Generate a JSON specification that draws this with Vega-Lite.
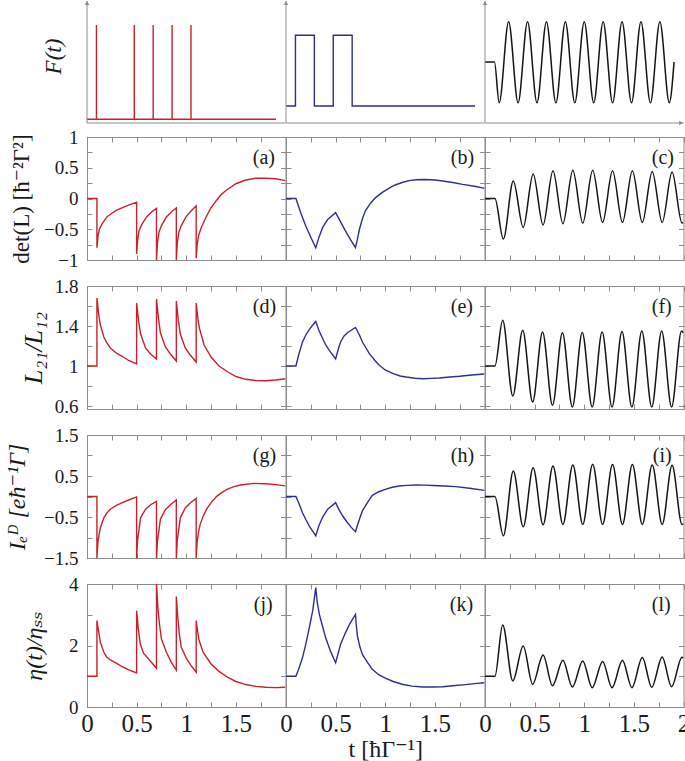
{
  "$schema": "https://vega.github.io/schema/vega-lite/v6.json",
  "background": "white",
  "padding": {"left": 5, "top": 0, "right": 0, "bottom": 0},
  "columns": 3,
  "spacing": {"row": 26, "column": 0},
  "bounds": "flush",
  "align": "each",
  "config": {
    "font": "Liberation Serif, DejaVu Serif, serif",
    "view": {"stroke": "#8c8c8c", "strokeWidth": 1},
    "axis": {"domain": false, "grid": false, "tickSize": -5, "tickColor": "#8c8c8c", "tickWidth": 1, "labelFont": "Liberation Serif, DejaVu Serif, serif", "titleFont": "Liberation Serif, DejaVu Serif, serif", "labelFontSize": 19, "labelColor": "#1a1a1a", "titleFontSize": 23, "titleFontWeight": "normal", "titleColor": "#1a1a1a", "labelFlush": false, "labelOverlap": false, "minExtent": 0},
    "text": {"font": "Liberation Serif, DejaVu Serif, serif"}
  },
  "datasets": {
    "Fa": [{"t":0,"v":-0.075},{"t":0.1,"v":-0.075},{"t":0.1,"v":0.782},{"t":0.1,"v":-0.075},{"t":0.5,"v":-0.075},{"t":0.5,"v":0.782},{"t":0.5,"v":-0.075},{"t":0.7,"v":-0.075},{"t":0.7,"v":0.782},{"t":0.7,"v":-0.075},{"t":0.9,"v":-0.075},{"t":0.9,"v":0.782},{"t":0.9,"v":-0.075},{"t":1.1,"v":-0.075},{"t":1.1,"v":0.782},{"t":1.1,"v":-0.075},{"t":2,"v":-0.075}],
    "Fb": [{"t":0,"v":0.045},{"t":0.1,"v":0.045},{"t":0.1,"v":0.688},{"t":0.3,"v":0.688},{"t":0.3,"v":0.045},{"t":0.5,"v":0.045},{"t":0.5,"v":0.688},{"t":0.7,"v":0.688},{"t":0.7,"v":0.045},{"t":2,"v":0.045}],
    "Fc": [{"t":0,"v":0.445},{"t":0.1,"v":0.445},{"t":0.15,"v":0.075},{"t":0.25,"v":0.812},{"t":0.35,"v":0.075},{"t":0.45,"v":0.812},{"t":0.55,"v":0.075},{"t":0.65,"v":0.812},{"t":0.75,"v":0.075},{"t":0.85,"v":0.812},{"t":0.95,"v":0.075},{"t":1.05,"v":0.812},{"t":1.15,"v":0.075},{"t":1.25,"v":0.812},{"t":1.35,"v":0.075},{"t":1.45,"v":0.812},{"t":1.55,"v":0.075},{"t":1.65,"v":0.812},{"t":1.75,"v":0.075},{"t":1.85,"v":0.812},{"t":1.95,"v":0.075},{"t":2.0,"v":0.445}],
    "a": [{"t":0,"v":0},{"t":0.1,"v":0},{"t":0.1,"v":-0.8},{"t":0.11,"v":-0.62},{"t":0.125,"v":-0.5},{"t":0.15,"v":-0.42},{"t":0.2,"v":-0.3},{"t":0.25,"v":-0.24},{"t":0.3,"v":-0.19},{"t":0.4,"v":-0.12},{"t":0.5,"v":-0.06},{"t":0.5,"v":-0.9},{"t":0.51,"v":-0.68},{"t":0.525,"v":-0.52},{"t":0.55,"v":-0.43},{"t":0.6,"v":-0.3},{"t":0.65,"v":-0.22},{"t":0.7,"v":-0.16},{"t":0.7,"v":-1.0},{"t":0.71,"v":-0.72},{"t":0.725,"v":-0.55},{"t":0.75,"v":-0.44},{"t":0.8,"v":-0.3},{"t":0.85,"v":-0.22},{"t":0.9,"v":-0.155},{"t":0.9,"v":-1.0},{"t":0.91,"v":-0.72},{"t":0.925,"v":-0.55},{"t":0.95,"v":-0.44},{"t":1.0,"v":-0.29},{"t":1.05,"v":-0.2},{"t":1.1,"v":-0.12},{"t":1.1,"v":-0.97},{"t":1.11,"v":-0.75},{"t":1.125,"v":-0.6},{"t":1.15,"v":-0.48},{"t":1.2,"v":-0.3},{"t":1.25,"v":-0.15},{"t":1.3,"v":-0.04},{"t":1.35,"v":0.06},{"t":1.4,"v":0.13},{"t":1.5,"v":0.24},{"t":1.6,"v":0.3},{"t":1.7,"v":0.33},{"t":1.8,"v":0.33},{"t":1.9,"v":0.32},{"t":2.0,"v":0.29}],
    "b": [{"t":0,"v":0},{"t":0.1,"v":0},{"t":0.15,"v":-0.24},{"t":0.2,"v":-0.45},{"t":0.25,"v":-0.63},{"t":0.3,"v":-0.8},{"t":0.33,"v":-0.64},{"t":0.37,"v":-0.47},{"t":0.42,"v":-0.34},{"t":0.5,"v":-0.23},{"t":0.55,"v":-0.38},{"t":0.6,"v":-0.53},{"t":0.65,"v":-0.67},{"t":0.7,"v":-0.8},{"t":0.72,"v":-0.66},{"t":0.74,"v":-0.5},{"t":0.77,"v":-0.33},{"t":0.8,"v":-0.2},{"t":0.85,"v":-0.08},{"t":0.9,"v":0.01},{"t":0.97,"v":0.1},{"t":1.04,"v":0.17},{"t":1.1,"v":0.22},{"t":1.17,"v":0.26},{"t":1.24,"v":0.29},{"t":1.31,"v":0.305},{"t":1.41,"v":0.31},{"t":1.5,"v":0.3},{"t":1.58,"v":0.285},{"t":1.68,"v":0.26},{"t":1.78,"v":0.23},{"t":1.9,"v":0.2},{"t":2.0,"v":0.165}],
    "c": [{"t":0,"v":0},{"t":0.1,"v":0},{"t":0.185,"v":-0.66},{"t":0.285,"v":0.285},{"t":0.385,"v":-0.47},{"t":0.485,"v":0.4},{"t":0.585,"v":-0.43},{"t":0.685,"v":0.45},{"t":0.785,"v":-0.41},{"t":0.885,"v":0.46},{"t":0.985,"v":-0.4},{"t":1.085,"v":0.46},{"t":1.185,"v":-0.39},{"t":1.285,"v":0.45},{"t":1.385,"v":-0.39},{"t":1.485,"v":0.45},{"t":1.585,"v":-0.39},{"t":1.685,"v":0.44},{"t":1.785,"v":-0.39},{"t":1.885,"v":0.43},{"t":1.985,"v":-0.4},{"t":2.0,"v":-0.39}],
    "d": [{"t":0,"v":1},{"t":0.1,"v":1},{"t":0.1,"v":1.68},{"t":0.12,"v":1.5},{"t":0.135,"v":1.41},{"t":0.17,"v":1.29},{"t":0.2,"v":1.23},{"t":0.235,"v":1.18},{"t":0.3,"v":1.125},{"t":0.35,"v":1.1},{"t":0.42,"v":1.055},{"t":0.5,"v":1.02},{"t":0.5,"v":1.63},{"t":0.52,"v":1.45},{"t":0.54,"v":1.32},{"t":0.59,"v":1.18},{"t":0.64,"v":1.12},{"t":0.7,"v":1.07},{"t":0.7,"v":1.67},{"t":0.72,"v":1.48},{"t":0.74,"v":1.33},{"t":0.79,"v":1.19},{"t":0.84,"v":1.12},{"t":0.9,"v":1.05},{"t":0.9,"v":1.65},{"t":0.92,"v":1.46},{"t":0.94,"v":1.32},{"t":0.99,"v":1.18},{"t":1.04,"v":1.11},{"t":1.1,"v":1.04},{"t":1.1,"v":1.63},{"t":1.12,"v":1.45},{"t":1.135,"v":1.37},{"t":1.18,"v":1.21},{"t":1.25,"v":1.09},{"t":1.33,"v":1.0},{"t":1.42,"v":0.94},{"t":1.5,"v":0.895},{"t":1.6,"v":0.867},{"t":1.7,"v":0.855},{"t":1.8,"v":0.853},{"t":1.9,"v":0.86},{"t":2.0,"v":0.873}],
    "e": [{"t":0,"v":1},{"t":0.1,"v":1},{"t":0.13,"v":1.12},{"t":0.166,"v":1.24},{"t":0.2,"v":1.31},{"t":0.235,"v":1.367},{"t":0.27,"v":1.41},{"t":0.3,"v":1.445},{"t":0.33,"v":1.36},{"t":0.37,"v":1.273},{"t":0.4,"v":1.21},{"t":0.436,"v":1.157},{"t":0.5,"v":1.07},{"t":0.53,"v":1.18},{"t":0.55,"v":1.24},{"t":0.585,"v":1.3},{"t":0.62,"v":1.333},{"t":0.66,"v":1.36},{"t":0.7,"v":1.385},{"t":0.74,"v":1.31},{"t":0.77,"v":1.24},{"t":0.8,"v":1.19},{"t":0.84,"v":1.123},{"t":0.9,"v":1.05},{"t":0.94,"v":1.007},{"t":1.0,"v":0.96},{"t":1.08,"v":0.923},{"t":1.15,"v":0.9},{"t":1.21,"v":0.89},{"t":1.3,"v":0.878},{"t":1.38,"v":0.873},{"t":1.46,"v":0.876},{"t":1.545,"v":0.88},{"t":1.65,"v":0.89},{"t":1.75,"v":0.897},{"t":1.87,"v":0.91},{"t":2.0,"v":0.92}],
    "f": [{"t":0,"v":1},{"t":0.1,"v":1},{"t":0.178,"v":1.457},{"t":0.28,"v":0.7},{"t":0.38,"v":1.357},{"t":0.48,"v":0.64},{"t":0.58,"v":1.34},{"t":0.68,"v":0.607},{"t":0.78,"v":1.333},{"t":0.88,"v":0.59},{"t":0.98,"v":1.335},{"t":1.08,"v":0.59},{"t":1.18,"v":1.34},{"t":1.28,"v":0.59},{"t":1.38,"v":1.345},{"t":1.48,"v":0.59},{"t":1.58,"v":1.35},{"t":1.68,"v":0.59},{"t":1.78,"v":1.35},{"t":1.88,"v":0.59},{"t":1.98,"v":1.35},{"t":2.0,"v":1.33}],
    "g": [{"t":0,"v":0},{"t":0.1,"v":0},{"t":0.1,"v":-1.5},{"t":0.11,"v":-1.1},{"t":0.125,"v":-0.88},{"t":0.135,"v":-0.76},{"t":0.17,"v":-0.52},{"t":0.2,"v":-0.4},{"t":0.235,"v":-0.31},{"t":0.3,"v":-0.21},{"t":0.34,"v":-0.17},{"t":0.42,"v":-0.085},{"t":0.5,"v":-0.01},{"t":0.5,"v":-1.5},{"t":0.51,"v":-1.05},{"t":0.525,"v":-0.8},{"t":0.54,"v":-0.52},{"t":0.59,"v":-0.31},{"t":0.64,"v":-0.2},{"t":0.7,"v":-0.12},{"t":0.7,"v":-1.55},{"t":0.71,"v":-1.08},{"t":0.725,"v":-0.82},{"t":0.74,"v":-0.55},{"t":0.79,"v":-0.32},{"t":0.84,"v":-0.2},{"t":0.9,"v":-0.085},{"t":0.9,"v":-1.5},{"t":0.91,"v":-1.05},{"t":0.925,"v":-0.8},{"t":0.94,"v":-0.52},{"t":0.99,"v":-0.28},{"t":1.04,"v":-0.16},{"t":1.1,"v":-0.045},{"t":1.1,"v":-1.5},{"t":1.11,"v":-1.1},{"t":1.125,"v":-0.85},{"t":1.14,"v":-0.68},{"t":1.17,"v":-0.48},{"t":1.21,"v":-0.29},{"t":1.26,"v":-0.12},{"t":1.31,"v":0.01},{"t":1.36,"v":0.1},{"t":1.41,"v":0.175},{"t":1.48,"v":0.24},{"t":1.55,"v":0.28},{"t":1.68,"v":0.32},{"t":1.8,"v":0.31},{"t":1.9,"v":0.29},{"t":2.0,"v":0.26}],
    "h": [{"t":0,"v":0},{"t":0.1,"v":0},{"t":0.13,"v":-0.17},{"t":0.166,"v":-0.395},{"t":0.2,"v":-0.56},{"t":0.235,"v":-0.72},{"t":0.27,"v":-0.85},{"t":0.3,"v":-0.96},{"t":0.33,"v":-0.72},{"t":0.37,"v":-0.5},{"t":0.42,"v":-0.31},{"t":0.5,"v":-0.15},{"t":0.53,"v":-0.3},{"t":0.57,"v":-0.47},{"t":0.62,"v":-0.64},{"t":0.66,"v":-0.76},{"t":0.7,"v":-0.86},{"t":0.72,"v":-0.7},{"t":0.745,"v":-0.52},{"t":0.77,"v":-0.35},{"t":0.82,"v":-0.15},{"t":0.87,"v":0.03},{"t":0.93,"v":0.11},{"t":1.0,"v":0.175},{"t":1.07,"v":0.225},{"t":1.14,"v":0.256},{"t":1.22,"v":0.272},{"t":1.31,"v":0.28},{"t":1.4,"v":0.278},{"t":1.48,"v":0.27},{"t":1.6,"v":0.255},{"t":1.71,"v":0.24},{"t":1.85,"v":0.2},{"t":2.0,"v":0.15}],
    "i": [{"t":0,"v":0},{"t":0.1,"v":0},{"t":0.185,"v":-0.96},{"t":0.285,"v":0.62},{"t":0.385,"v":-0.74},{"t":0.485,"v":0.7},{"t":0.585,"v":-0.69},{"t":0.685,"v":0.745},{"t":0.785,"v":-0.68},{"t":0.885,"v":0.77},{"t":0.985,"v":-0.68},{"t":1.085,"v":0.785},{"t":1.185,"v":-0.68},{"t":1.285,"v":0.78},{"t":1.385,"v":-0.68},{"t":1.485,"v":0.78},{"t":1.585,"v":-0.68},{"t":1.685,"v":0.77},{"t":1.785,"v":-0.68},{"t":1.885,"v":0.76},{"t":1.985,"v":-0.68},{"t":2.0,"v":-0.67}],
    "j": [{"t":0,"v":1},{"t":0.1,"v":1},{"t":0.1,"v":2.81},{"t":0.12,"v":2.4},{"t":0.135,"v":2.1},{"t":0.17,"v":1.78},{"t":0.2,"v":1.62},{"t":0.235,"v":1.53},{"t":0.3,"v":1.42},{"t":0.34,"v":1.34},{"t":0.42,"v":1.21},{"t":0.5,"v":1.11},{"t":0.5,"v":3.13},{"t":0.515,"v":2.6},{"t":0.537,"v":2.05},{"t":0.57,"v":1.75},{"t":0.64,"v":1.49},{"t":0.7,"v":1.26},{"t":0.7,"v":4.02},{"t":0.715,"v":3.2},{"t":0.73,"v":2.7},{"t":0.75,"v":2.21},{"t":0.8,"v":1.78},{"t":0.85,"v":1.45},{"t":0.9,"v":1.2},{"t":0.9,"v":3.59},{"t":0.915,"v":2.9},{"t":0.93,"v":2.37},{"t":0.95,"v":1.94},{"t":1.0,"v":1.59},{"t":1.05,"v":1.34},{"t":1.1,"v":1.13},{"t":1.1,"v":2.81},{"t":1.115,"v":2.45},{"t":1.13,"v":2.16},{"t":1.17,"v":1.78},{"t":1.25,"v":1.4},{"t":1.33,"v":1.16},{"t":1.42,"v":0.96},{"t":1.5,"v":0.83},{"t":1.6,"v":0.73},{"t":1.7,"v":0.67},{"t":1.8,"v":0.64},{"t":1.9,"v":0.63},{"t":2.0,"v":0.64}],
    "k": [{"t":0,"v":1},{"t":0.1,"v":1},{"t":0.13,"v":1.25},{"t":0.166,"v":1.6},{"t":0.2,"v":2.05},{"t":0.235,"v":2.58},{"t":0.27,"v":3.15},{"t":0.3,"v":3.88},{"t":0.315,"v":3.4},{"t":0.336,"v":3.01},{"t":0.37,"v":2.6},{"t":0.4,"v":2.25},{"t":0.45,"v":1.8},{"t":0.5,"v":1.44},{"t":0.55,"v":2.04},{"t":0.6,"v":2.42},{"t":0.64,"v":2.69},{"t":0.67,"v":2.85},{"t":0.7,"v":3.01},{"t":0.71,"v":2.6},{"t":0.72,"v":2.3},{"t":0.745,"v":1.95},{"t":0.77,"v":1.71},{"t":0.82,"v":1.45},{"t":0.87,"v":1.23},{"t":0.93,"v":1.06},{"t":1.0,"v":0.94},{"t":1.08,"v":0.83},{"t":1.17,"v":0.74},{"t":1.27,"v":0.68},{"t":1.38,"v":0.65},{"t":1.48,"v":0.65},{"t":1.58,"v":0.66},{"t":1.68,"v":0.69},{"t":1.78,"v":0.72},{"t":1.9,"v":0.76},{"t":2.0,"v":0.79}],
    "l": [{"t":0,"v":1},{"t":0.1,"v":1},{"t":0.178,"v":2.67},{"t":0.28,"v":0.85},{"t":0.385,"v":1.98},{"t":0.48,"v":0.74},{"t":0.585,"v":1.69},{"t":0.68,"v":0.69},{"t":0.785,"v":1.52},{"t":0.88,"v":0.65},{"t":0.985,"v":1.5},{"t":1.08,"v":0.63},{"t":1.185,"v":1.48},{"t":1.28,"v":0.63},{"t":1.385,"v":1.52},{"t":1.48,"v":0.63},{"t":1.585,"v":1.61},{"t":1.68,"v":0.64},{"t":1.785,"v":1.63},{"t":1.88,"v":0.66},{"t":1.985,"v":1.62},{"t":2.0,"v":1.6}]
  },
  "concat": [
    {"width": 198.5, "height": 110, "view": {"stroke": null}, "resolve": {"axis": {"x": "independent", "y": "independent"}}, "layer": [
      {"data": {"name": "Fa"}, "mark": {"type": "line", "color": "#c9212c", "strokeWidth": 1.4}, "encoding": {
        "x": {"field": "t", "type": "quantitative", "scale": {"domain": [0, 2.1], "nice": false, "zero": false}, "axis": null},
        "y": {"field": "v", "type": "quantitative", "scale": {"domain": [0, 1], "nice": false, "zero": false}, "axis": {"title": "F(t)", "titleFontStyle": "italic", "labels": false, "ticks": false, "domain": false, "titlePadding": 22}},
        "order": {"value": null}}},
      {"data": {"values": [{}]}, "mark": {"type": "rule", "color": "#8c8c8c", "strokeWidth": 1}, "encoding": {
        "x": {"datum": 0, "type": "quantitative", "scale": {"domain": [0, 2.1], "nice": false, "zero": false}, "axis": null},
        "y": {"datum": 1, "type": "quantitative", "scale": {"domain": [0, 1], "nice": false, "zero": false}, "axis": null},
        "y2": {"datum": -0.109}}},
      {"data": {"values": [{}]}, "mark": {"type": "rule", "color": "#8c8c8c", "strokeWidth": 1}, "encoding": {
        "x": {"datum": 0, "type": "quantitative", "scale": {"domain": [0, 2.1], "nice": false, "zero": false}, "axis": null},
        "x2": {"datum": 2.1},
        "y": {"datum": -0.109, "type": "quantitative", "scale": {"domain": [0, 1], "nice": false, "zero": false}, "axis": null}}},
      {"data": {"values": [{}]}, "mark": {"type": "point", "shape": "triangle-up", "filled": true, "size": 20, "color": "#8c8c8c", "opacity": 1}, "encoding": {
        "x": {"datum": 0, "type": "quantitative", "scale": {"domain": [0, 2.1], "nice": false, "zero": false}, "axis": null},
        "y": {"datum": 0.982, "type": "quantitative", "scale": {"domain": [0, 1], "nice": false, "zero": false}, "axis": null}}}
    ]},
    {"width": 198.5, "height": 110, "view": {"stroke": null}, "layer": [
      {"data": {"name": "Fb"}, "mark": {"type": "line", "color": "#2d2f8e", "strokeWidth": 1.4}, "encoding": {
        "x": {"field": "t", "type": "quantitative", "scale": {"domain": [0, 2.1], "nice": false, "zero": false}, "axis": null},
        "y": {"field": "v", "type": "quantitative", "scale": {"domain": [0, 1], "nice": false, "zero": false}, "axis": null},
        "order": {"value": null}}},
      {"data": {"values": [{}]}, "mark": {"type": "rule", "color": "#8c8c8c", "strokeWidth": 1}, "encoding": {
        "x": {"datum": 0, "type": "quantitative", "scale": {"domain": [0, 2.1], "nice": false, "zero": false}, "axis": null},
        "y": {"datum": 1, "type": "quantitative", "scale": {"domain": [0, 1], "nice": false, "zero": false}, "axis": null},
        "y2": {"datum": -0.109}}},
      {"data": {"values": [{}]}, "mark": {"type": "rule", "color": "#8c8c8c", "strokeWidth": 1}, "encoding": {
        "x": {"datum": 0, "type": "quantitative", "scale": {"domain": [0, 2.1], "nice": false, "zero": false}, "axis": null},
        "x2": {"datum": 2.1},
        "y": {"datum": -0.109, "type": "quantitative", "scale": {"domain": [0, 1], "nice": false, "zero": false}, "axis": null}}},
      {"data": {"values": [{}]}, "mark": {"type": "point", "shape": "triangle-up", "filled": true, "size": 20, "color": "#8c8c8c", "opacity": 1}, "encoding": {
        "x": {"datum": 0, "type": "quantitative", "scale": {"domain": [0, 2.1], "nice": false, "zero": false}, "axis": null},
        "y": {"datum": 0.982, "type": "quantitative", "scale": {"domain": [0, 1], "nice": false, "zero": false}, "axis": null}}}
    ]},
    {"width": 198.5, "height": 110, "view": {"stroke": null}, "layer": [
      {"data": {"name": "Fc"}, "mark": {"type": "line", "color": "#141414", "strokeWidth": 1.5, "interpolate": "monotone"}, "encoding": {
        "x": {"field": "t", "type": "quantitative", "scale": {"domain": [0, 2.1], "nice": false, "zero": false}, "axis": null},
        "y": {"field": "v", "type": "quantitative", "scale": {"domain": [0, 1], "nice": false, "zero": false}, "axis": null},
        "order": {"value": null}}},
      {"data": {"values": [{}]}, "mark": {"type": "rule", "color": "#8c8c8c", "strokeWidth": 1}, "encoding": {
        "x": {"datum": 0, "type": "quantitative", "scale": {"domain": [0, 2.1], "nice": false, "zero": false}, "axis": null},
        "y": {"datum": 1, "type": "quantitative", "scale": {"domain": [0, 1], "nice": false, "zero": false}, "axis": null},
        "y2": {"datum": -0.109}}},
      {"data": {"values": [{}]}, "mark": {"type": "rule", "color": "#8c8c8c", "strokeWidth": 1}, "encoding": {
        "x": {"datum": 0, "type": "quantitative", "scale": {"domain": [0, 2.1], "nice": false, "zero": false}, "axis": null},
        "x2": {"datum": 2.1},
        "y": {"datum": -0.109, "type": "quantitative", "scale": {"domain": [0, 1], "nice": false, "zero": false}, "axis": null}}},
      {"data": {"values": [{}]}, "mark": {"type": "point", "shape": "triangle-up", "filled": true, "size": 20, "color": "#8c8c8c", "opacity": 1}, "encoding": {
        "x": {"datum": 0, "type": "quantitative", "scale": {"domain": [0, 2.1], "nice": false, "zero": false}, "axis": null},
        "y": {"datum": 0.982, "type": "quantitative", "scale": {"domain": [0, 1], "nice": false, "zero": false}, "axis": null}}},
      {"data": {"values": [{}]}, "mark": {"type": "point", "shape": "triangle-right", "filled": true, "size": 20, "color": "#8c8c8c", "opacity": 1}, "encoding": {
        "x": {"datum": 2.075, "type": "quantitative", "scale": {"domain": [0, 2.1], "nice": false, "zero": false}, "axis": null},
        "y": {"datum": -0.109, "type": "quantitative", "scale": {"domain": [0, 1], "nice": false, "zero": false}, "axis": null}}}
    ]},

    {"width": 198.5, "height": 123, "resolve": {"axis": {"x": "independent", "y": "independent"}}, "layer": [
      {"data": {"name": "a"}, "mark": {"type": "line", "color": "#c9212c", "strokeWidth": 1.4, "clip": true}, "encoding": {
        "x": {"field": "t", "type": "quantitative", "scale": {"domain": [0, 2], "nice": false, "zero": false}, "axis": {"orient": "bottom", "values": [0,0.25,0.5,0.75,1,1.25,1.5,1.75,2], "labels": false, "title": null}},
        "y": {"field": "v", "type": "quantitative", "scale": {"domain": [-1, 1], "nice": false, "zero": false}, "axis": {"orient": "left", "values": [-1,-0.75,-0.5,-0.25,0,0.25,0.5,0.75,1], "format": "~g", "labelExpr": "indexof([1,0.5,0,-0.5,-1], datum.value) >= 0 ? datum.label : ''", "labelPadding": 14, "title": "det(L) [ħ⁻²Γ²]", "titlePadding": 10}},
        "order": {"value": null}}},
      {"data": {"values": [{}]}, "mark": {"type": "text", "align": "left", "baseline": "middle", "fontSize": 20, "color": "#1a1a1a"}, "encoding": {
        "x": {"datum": 1.67, "type": "quantitative", "scale": {"domain": [0, 2], "nice": false, "zero": false}, "axis": {"orient": "top", "values": [0,0.25,0.5,0.75,1,1.25,1.5,1.75,2], "labels": false, "title": null}},
        "y": {"datum": 0.66, "type": "quantitative", "scale": {"domain": [-1, 1], "nice": false, "zero": false}, "axis": {"orient": "right", "values": [-1,-0.75,-0.5,-0.25,0,0.25,0.5,0.75,1], "labels": false, "title": null}},
        "text": {"value": "(a)"}}}
    ]},
    {"width": 198.5, "height": 123, "resolve": {"axis": {"x": "independent", "y": "independent"}}, "layer": [
      {"data": {"name": "b"}, "mark": {"type": "line", "color": "#2d2f8e", "strokeWidth": 1.4, "clip": true}, "encoding": {
        "x": {"field": "t", "type": "quantitative", "scale": {"domain": [0, 2], "nice": false, "zero": false}, "axis": {"orient": "bottom", "values": [0,0.25,0.5,0.75,1,1.25,1.5,1.75,2], "labels": false, "title": null}},
        "y": {"field": "v", "type": "quantitative", "scale": {"domain": [-1, 1], "nice": false, "zero": false}, "axis": {"orient": "left", "values": [-1,-0.75,-0.5,-0.25,0,0.25,0.5,0.75,1], "labels": false, "title": null}},
        "order": {"value": null}}},
      {"data": {"values": [{}]}, "mark": {"type": "text", "align": "left", "baseline": "middle", "fontSize": 20, "color": "#1a1a1a"}, "encoding": {
        "x": {"datum": 1.66, "type": "quantitative", "scale": {"domain": [0, 2], "nice": false, "zero": false}, "axis": {"orient": "top", "values": [0,0.25,0.5,0.75,1,1.25,1.5,1.75,2], "labels": false, "title": null}},
        "y": {"datum": 0.66, "type": "quantitative", "scale": {"domain": [-1, 1], "nice": false, "zero": false}, "axis": {"orient": "right", "values": [-1,-0.75,-0.5,-0.25,0,0.25,0.5,0.75,1], "labels": false, "title": null}},
        "text": {"value": "(b)"}}}
    ]},
    {"width": 198.5, "height": 123, "resolve": {"axis": {"x": "independent", "y": "independent"}}, "layer": [
      {"data": {"name": "c"}, "mark": {"type": "line", "color": "#141414", "strokeWidth": 1.5, "clip": true, "interpolate": "monotone"}, "encoding": {
        "x": {"field": "t", "type": "quantitative", "scale": {"domain": [0, 2], "nice": false, "zero": false}, "axis": {"orient": "bottom", "values": [0,0.25,0.5,0.75,1,1.25,1.5,1.75,2], "labels": false, "title": null}},
        "y": {"field": "v", "type": "quantitative", "scale": {"domain": [-1, 1], "nice": false, "zero": false}, "axis": {"orient": "left", "values": [-1,-0.75,-0.5,-0.25,0,0.25,0.5,0.75,1], "labels": false, "title": null}},
        "order": {"value": null}}},
      {"data": {"values": [{}]}, "mark": {"type": "text", "align": "left", "baseline": "middle", "fontSize": 20, "color": "#1a1a1a"}, "encoding": {
        "x": {"datum": 1.68, "type": "quantitative", "scale": {"domain": [0, 2], "nice": false, "zero": false}, "axis": {"orient": "top", "values": [0,0.25,0.5,0.75,1,1.25,1.5,1.75,2], "labels": false, "title": null}},
        "y": {"datum": 0.66, "type": "quantitative", "scale": {"domain": [-1, 1], "nice": false, "zero": false}, "axis": {"orient": "right", "values": [-1,-0.75,-0.5,-0.25,0,0.25,0.5,0.75,1], "labels": false, "title": null}},
        "text": {"value": "(c)"}}}
    ]},

    {"width": 198.5, "height": 123, "resolve": {"axis": {"x": "independent", "y": "independent"}}, "layer": [
      {"data": {"name": "d"}, "mark": {"type": "line", "color": "#c9212c", "strokeWidth": 1.4, "clip": true}, "encoding": {
        "x": {"field": "t", "type": "quantitative", "scale": {"domain": [0, 2], "nice": false, "zero": false}, "axis": {"orient": "bottom", "values": [0,0.25,0.5,0.75,1,1.25,1.5,1.75,2], "labels": false, "title": null}},
        "y": {"field": "v", "type": "quantitative", "scale": {"domain": [0.57, 1.8], "nice": false, "zero": false}, "axis": {"orient": "left", "values": [0.6,0.8,1,1.2,1.4,1.6,1.8], "format": "~g", "labelExpr": "indexof([0.6,1,1.4,1.8], datum.value) >= 0 ? datum.label : ''", "labelPadding": 14, "title": "L₂₁/L₁₂", "titleFontStyle": "italic", "titleFontSize": 26, "titlePadding": 8}},
        "order": {"value": null}}},
      {"data": {"values": [{}]}, "mark": {"type": "text", "align": "left", "baseline": "middle", "fontSize": 20, "color": "#1a1a1a"}, "encoding": {
        "x": {"datum": 1.67, "type": "quantitative", "scale": {"domain": [0, 2], "nice": false, "zero": false}, "axis": {"orient": "top", "values": [0,0.25,0.5,0.75,1,1.25,1.5,1.75,2], "labels": false, "title": null}},
        "y": {"datum": 1.59, "type": "quantitative", "scale": {"domain": [0.57, 1.8], "nice": false, "zero": false}, "axis": {"orient": "right", "values": [0.6,0.8,1,1.2,1.4,1.6,1.8], "labels": false, "title": null}},
        "text": {"value": "(d)"}}}
    ]},
    {"width": 198.5, "height": 123, "resolve": {"axis": {"x": "independent", "y": "independent"}}, "layer": [
      {"data": {"name": "e"}, "mark": {"type": "line", "color": "#2d2f8e", "strokeWidth": 1.4, "clip": true}, "encoding": {
        "x": {"field": "t", "type": "quantitative", "scale": {"domain": [0, 2], "nice": false, "zero": false}, "axis": {"orient": "bottom", "values": [0,0.25,0.5,0.75,1,1.25,1.5,1.75,2], "labels": false, "title": null}},
        "y": {"field": "v", "type": "quantitative", "scale": {"domain": [0.57, 1.8], "nice": false, "zero": false}, "axis": {"orient": "left", "values": [0.6,0.8,1,1.2,1.4,1.6,1.8], "labels": false, "title": null}},
        "order": {"value": null}}},
      {"data": {"values": [{}]}, "mark": {"type": "text", "align": "left", "baseline": "middle", "fontSize": 20, "color": "#1a1a1a"}, "encoding": {
        "x": {"datum": 1.66, "type": "quantitative", "scale": {"domain": [0, 2], "nice": false, "zero": false}, "axis": {"orient": "top", "values": [0,0.25,0.5,0.75,1,1.25,1.5,1.75,2], "labels": false, "title": null}},
        "y": {"datum": 1.59, "type": "quantitative", "scale": {"domain": [0.57, 1.8], "nice": false, "zero": false}, "axis": {"orient": "right", "values": [0.6,0.8,1,1.2,1.4,1.6,1.8], "labels": false, "title": null}},
        "text": {"value": "(e)"}}}
    ]},
    {"width": 198.5, "height": 123, "resolve": {"axis": {"x": "independent", "y": "independent"}}, "layer": [
      {"data": {"name": "f"}, "mark": {"type": "line", "color": "#141414", "strokeWidth": 1.5, "clip": true, "interpolate": "monotone"}, "encoding": {
        "x": {"field": "t", "type": "quantitative", "scale": {"domain": [0, 2], "nice": false, "zero": false}, "axis": {"orient": "bottom", "values": [0,0.25,0.5,0.75,1,1.25,1.5,1.75,2], "labels": false, "title": null}},
        "y": {"field": "v", "type": "quantitative", "scale": {"domain": [0.57, 1.8], "nice": false, "zero": false}, "axis": {"orient": "left", "values": [0.6,0.8,1,1.2,1.4,1.6,1.8], "labels": false, "title": null}},
        "order": {"value": null}}},
      {"data": {"values": [{}]}, "mark": {"type": "text", "align": "left", "baseline": "middle", "fontSize": 20, "color": "#1a1a1a"}, "encoding": {
        "x": {"datum": 1.68, "type": "quantitative", "scale": {"domain": [0, 2], "nice": false, "zero": false}, "axis": {"orient": "top", "values": [0,0.25,0.5,0.75,1,1.25,1.5,1.75,2], "labels": false, "title": null}},
        "y": {"datum": 1.59, "type": "quantitative", "scale": {"domain": [0.57, 1.8], "nice": false, "zero": false}, "axis": {"orient": "right", "values": [0.6,0.8,1,1.2,1.4,1.6,1.8], "labels": false, "title": null}},
        "text": {"value": "(f)"}}}
    ]},

    {"width": 198.5, "height": 123, "resolve": {"axis": {"x": "independent", "y": "independent"}}, "layer": [
      {"data": {"name": "g"}, "mark": {"type": "line", "color": "#c9212c", "strokeWidth": 1.4, "clip": true}, "encoding": {
        "x": {"field": "t", "type": "quantitative", "scale": {"domain": [0, 2], "nice": false, "zero": false}, "axis": {"orient": "bottom", "values": [0,0.25,0.5,0.75,1,1.25,1.5,1.75,2], "labels": false, "title": null}},
        "y": {"field": "v", "type": "quantitative", "scale": {"domain": [-1.5, 1.5], "nice": false, "zero": false}, "axis": {"orient": "left", "values": [-1.5,-1,-0.5,0,0.5,1,1.5], "format": "~g", "labelExpr": "indexof([1.5,0.5,-0.5,-1.5], datum.value) >= 0 ? datum.label : ''", "labelPadding": 14, "title": "Iₑᴰ [eħ⁻¹Γ]", "titleFontStyle": "italic", "titleFontSize": 24, "titlePadding": 14}},
        "order": {"value": null}}},
      {"data": {"values": [{}]}, "mark": {"type": "text", "align": "left", "baseline": "middle", "fontSize": 20, "color": "#1a1a1a"}, "encoding": {
        "x": {"datum": 1.67, "type": "quantitative", "scale": {"domain": [0, 2], "nice": false, "zero": false}, "axis": {"orient": "top", "values": [0,0.25,0.5,0.75,1,1.25,1.5,1.75,2], "labels": false, "title": null}},
        "y": {"datum": 0.99, "type": "quantitative", "scale": {"domain": [-1.5, 1.5], "nice": false, "zero": false}, "axis": {"orient": "right", "values": [-1.5,-1,-0.5,0,0.5,1,1.5], "labels": false, "title": null}},
        "text": {"value": "(g)"}}}
    ]},
    {"width": 198.5, "height": 123, "resolve": {"axis": {"x": "independent", "y": "independent"}}, "layer": [
      {"data": {"name": "h"}, "mark": {"type": "line", "color": "#2d2f8e", "strokeWidth": 1.4, "clip": true}, "encoding": {
        "x": {"field": "t", "type": "quantitative", "scale": {"domain": [0, 2], "nice": false, "zero": false}, "axis": {"orient": "bottom", "values": [0,0.25,0.5,0.75,1,1.25,1.5,1.75,2], "labels": false, "title": null}},
        "y": {"field": "v", "type": "quantitative", "scale": {"domain": [-1.5, 1.5], "nice": false, "zero": false}, "axis": {"orient": "left", "values": [-1.5,-1,-0.5,0,0.5,1,1.5], "labels": false, "title": null}},
        "order": {"value": null}}},
      {"data": {"values": [{}]}, "mark": {"type": "text", "align": "left", "baseline": "middle", "fontSize": 20, "color": "#1a1a1a"}, "encoding": {
        "x": {"datum": 1.66, "type": "quantitative", "scale": {"domain": [0, 2], "nice": false, "zero": false}, "axis": {"orient": "top", "values": [0,0.25,0.5,0.75,1,1.25,1.5,1.75,2], "labels": false, "title": null}},
        "y": {"datum": 0.99, "type": "quantitative", "scale": {"domain": [-1.5, 1.5], "nice": false, "zero": false}, "axis": {"orient": "right", "values": [-1.5,-1,-0.5,0,0.5,1,1.5], "labels": false, "title": null}},
        "text": {"value": "(h)"}}}
    ]},
    {"width": 198.5, "height": 123, "resolve": {"axis": {"x": "independent", "y": "independent"}}, "layer": [
      {"data": {"name": "i"}, "mark": {"type": "line", "color": "#141414", "strokeWidth": 1.5, "clip": true, "interpolate": "monotone"}, "encoding": {
        "x": {"field": "t", "type": "quantitative", "scale": {"domain": [0, 2], "nice": false, "zero": false}, "axis": {"orient": "bottom", "values": [0,0.25,0.5,0.75,1,1.25,1.5,1.75,2], "labels": false, "title": null}},
        "y": {"field": "v", "type": "quantitative", "scale": {"domain": [-1.5, 1.5], "nice": false, "zero": false}, "axis": {"orient": "left", "values": [-1.5,-1,-0.5,0,0.5,1,1.5], "labels": false, "title": null}},
        "order": {"value": null}}},
      {"data": {"values": [{}]}, "mark": {"type": "text", "align": "left", "baseline": "middle", "fontSize": 20, "color": "#1a1a1a"}, "encoding": {
        "x": {"datum": 1.69, "type": "quantitative", "scale": {"domain": [0, 2], "nice": false, "zero": false}, "axis": {"orient": "top", "values": [0,0.25,0.5,0.75,1,1.25,1.5,1.75,2], "labels": false, "title": null}},
        "y": {"datum": 0.99, "type": "quantitative", "scale": {"domain": [-1.5, 1.5], "nice": false, "zero": false}, "axis": {"orient": "right", "values": [-1.5,-1,-0.5,0,0.5,1,1.5], "labels": false, "title": null}},
        "text": {"value": "(i)"}}}
    ]},

    {"width": 198.5, "height": 123, "resolve": {"axis": {"x": "independent", "y": "independent"}}, "layer": [
      {"data": {"name": "j"}, "mark": {"type": "line", "color": "#c9212c", "strokeWidth": 1.4, "clip": true}, "encoding": {
        "x": {"field": "t", "type": "quantitative", "scale": {"domain": [0, 2], "nice": false, "zero": false}, "axis": {"orient": "bottom", "values": [0,0.25,0.5,0.75,1,1.25,1.5,1.75,2], "format": "~g", "labelExpr": "datum.value % 0.5 == 0 && datum.value < 2 ? datum.label : ''", "labelFontSize": 25, "labelPadding": 9, "title": null}},
        "y": {"field": "v", "type": "quantitative", "scale": {"domain": [0, 4], "nice": false, "zero": false}, "axis": {"orient": "left", "values": [0,1,2,3,4], "format": "~g", "labelExpr": "indexof([0,2,4], datum.value) >= 0 ? datum.label : ''", "labelPadding": 14, "title": "η(t)/ηₛₛ", "titleFontStyle": "italic", "titleFontSize": 24, "titlePadding": 22}},
        "order": {"value": null}}},
      {"data": {"values": [{}]}, "mark": {"type": "text", "align": "left", "baseline": "middle", "fontSize": 20, "color": "#1a1a1a"}, "encoding": {
        "x": {"datum": 1.68, "type": "quantitative", "scale": {"domain": [0, 2], "nice": false, "zero": false}, "axis": {"orient": "top", "values": [0,0.25,0.5,0.75,1,1.25,1.5,1.75,2], "labels": false, "title": null}},
        "y": {"datum": 3.32, "type": "quantitative", "scale": {"domain": [0, 4], "nice": false, "zero": false}, "axis": {"orient": "right", "values": [0,1,2,3,4], "labels": false, "title": null}},
        "text": {"value": "(j)"}}}
    ]},
    {"width": 198.5, "height": 123, "resolve": {"axis": {"x": "independent", "y": "independent"}}, "layer": [
      {"data": {"name": "k"}, "mark": {"type": "line", "color": "#2d2f8e", "strokeWidth": 1.4, "clip": true}, "encoding": {
        "x": {"field": "t", "type": "quantitative", "scale": {"domain": [0, 2], "nice": false, "zero": false}, "axis": {"orient": "bottom", "values": [0,0.25,0.5,0.75,1,1.25,1.5,1.75,2], "format": "~g", "labelExpr": "datum.value % 0.5 == 0 && datum.value < 2 ? datum.label : ''", "labelFontSize": 25, "labelPadding": 9, "title": "t [ħΓ⁻¹]", "titleFontSize": 24, "titlePadding": 1}},
        "y": {"field": "v", "type": "quantitative", "scale": {"domain": [0, 4], "nice": false, "zero": false}, "axis": {"orient": "left", "values": [0,1,2,3,4], "labels": false, "title": null}},
        "order": {"value": null}}},
      {"data": {"values": [{}]}, "mark": {"type": "text", "align": "left", "baseline": "middle", "fontSize": 20, "color": "#1a1a1a"}, "encoding": {
        "x": {"datum": 1.65, "type": "quantitative", "scale": {"domain": [0, 2], "nice": false, "zero": false}, "axis": {"orient": "top", "values": [0,0.25,0.5,0.75,1,1.25,1.5,1.75,2], "labels": false, "title": null}},
        "y": {"datum": 3.32, "type": "quantitative", "scale": {"domain": [0, 4], "nice": false, "zero": false}, "axis": {"orient": "right", "values": [0,1,2,3,4], "labels": false, "title": null}},
        "text": {"value": "(k)"}}}
    ]},
    {"width": 198.5, "height": 123, "resolve": {"axis": {"x": "independent", "y": "independent"}}, "layer": [
      {"data": {"name": "l"}, "mark": {"type": "line", "color": "#141414", "strokeWidth": 1.5, "clip": true, "interpolate": "monotone"}, "encoding": {
        "x": {"field": "t", "type": "quantitative", "scale": {"domain": [0, 2], "nice": false, "zero": false}, "axis": {"orient": "bottom", "values": [0,0.25,0.5,0.75,1,1.25,1.5,1.75,2], "format": "~g", "labelExpr": "datum.value % 0.5 == 0 ? datum.label : ''", "labelFontSize": 25, "labelPadding": 9, "title": null}},
        "y": {"field": "v", "type": "quantitative", "scale": {"domain": [0, 4], "nice": false, "zero": false}, "axis": {"orient": "left", "values": [0,1,2,3,4], "labels": false, "title": null}},
        "order": {"value": null}}},
      {"data": {"values": [{}]}, "mark": {"type": "text", "align": "left", "baseline": "middle", "fontSize": 20, "color": "#1a1a1a"}, "encoding": {
        "x": {"datum": 1.68, "type": "quantitative", "scale": {"domain": [0, 2], "nice": false, "zero": false}, "axis": {"orient": "top", "values": [0,0.25,0.5,0.75,1,1.25,1.5,1.75,2], "labels": false, "title": null}},
        "y": {"datum": 3.32, "type": "quantitative", "scale": {"domain": [0, 4], "nice": false, "zero": false}, "axis": {"orient": "right", "values": [0,1,2,3,4], "labels": false, "title": null}},
        "text": {"value": "(l)"}}}
    ]}
  ]
}
